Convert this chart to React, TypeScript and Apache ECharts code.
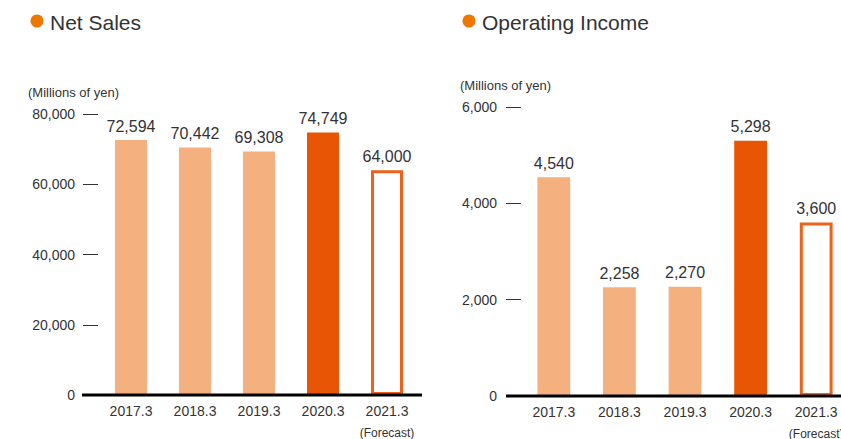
import React, { useEffect, useRef } from "react";
import * as echarts from "echarts";

const categories = ["2017.3", "2018.3", "2019.3", "2020.3", "2021.3"];
const netSales = [72594, 70442, 69308, 74749, 64000];
const operatingIncome = [4540, 2258, 2270, 5298, 3600];
const highlightIndex = 3;
const forecastIndex = 4;

const LIGHT = "#f5b080";
const DARK = "#e85504";
const FORECAST_BORDER = "#ec621a";
const DOT = "#ee7700";
const TEXT = "#333333";
const FONT = "'Liberation Sans', Arial, sans-serif";

function makeData(values: number[]) {
  return values.map((v, i) => {
    if (i === forecastIndex) {
      return {
        value: v,
        itemStyle: { color: "#ffffff", borderColor: FORECAST_BORDER, borderWidth: 3 },
      };
    }
    return { value: v, itemStyle: { color: i === highlightIndex ? DARK : LIGHT } };
  });
}

const fmt = (v: number) => v.toLocaleString("en-US");

export default function App() {
  const ref = useRef<HTMLDivElement>(null);
  useEffect(() => {
    if (!ref.current) return;
    const chart = echarts.init(ref.current, undefined, { renderer: "svg" });
    const xAxisCommon = (gridIndex: number) => ({
      type: "category" as const,
      gridIndex,
      data: categories,
      axisLine: { show: false },
      axisTick: { show: false },
      axisLabel: {
        interval: 0,
        hideOverlap: false,
        margin: 7,
        color: TEXT,
        fontSize: 14,
        fontFamily: FONT,
        lineHeight: 18,
        formatter: (v: string) => (v === categories[forecastIndex] ? v + "\n{f|(Forecast)}" : v),
        rich: { f: { fontSize: 12, color: TEXT, fontFamily: FONT, lineHeight: 26 } },
      },
    });
    const yAxisCommon = (gridIndex: number, max: number, interval: number, offset: number) => ({
      type: "value" as const,
      gridIndex,
      min: 0,
      max,
      interval,
      offset,
      axisLine: { show: false },
      axisTick: { show: true, length: 15, lineStyle: { color: TEXT, width: 1 } },
      splitLine: { show: false },
      axisLabel: {
        margin: 24 - offset,
        color: TEXT,
        fontSize: 14,
        fontFamily: FONT,
        formatter: (v: number) => fmt(v),
      },
    });
    const labelCommon = {
      show: true,
      position: "top" as const,
      distance: 6,
      color: TEXT,
      fontSize: 16,
      fontFamily: FONT,
      formatter: (p: any) => fmt(p.value),
    };
    chart.setOption({
      animation: false,
      grid: [
        { left: 99, width: 320, top: 114, bottom: 44, outerBoundsMode: "none", containLabel: false },
        { left: 521, width: 328, top: 107, bottom: 43, outerBoundsMode: "none", containLabel: false },
      ],
      xAxis: [xAxisCommon(0), xAxisCommon(1)],
      yAxis: [yAxisCommon(0, 80000, 20000, 1), yAxisCommon(1, 6000, 2000, 0)],
      series: [
        {
          type: "bar",
          xAxisIndex: 0,
          yAxisIndex: 0,
          data: makeData(netSales),
          barWidth: "50%",
          label: labelCommon,
        },
        {
          type: "bar",
          xAxisIndex: 1,
          yAxisIndex: 1,
          data: makeData(operatingIncome),
          barWidth: "50%",
          label: labelCommon,
        },
      ],
      graphic: [
        { type: "circle", shape: { cx: 37, cy: 21, r: 6.5 }, style: { fill: DOT } },
        {
          type: "text",
          x: 50,
          y: 22,
          style: { text: "Net Sales", fill: TEXT, fontSize: 21, fontFamily: FONT, verticalAlign: "middle" },
        },
        { type: "circle", shape: { cx: 469, cy: 21, r: 6.5 }, style: { fill: DOT } },
        {
          type: "text",
          x: 482,
          y: 22,
          style: { text: "Operating Income", fill: TEXT, fontSize: 21, fontFamily: FONT, verticalAlign: "middle" },
        },
        {
          type: "text",
          x: 28,
          y: 92,
          style: { text: "(Millions of yen)", fill: TEXT, fontSize: 13, fontFamily: FONT, verticalAlign: "middle" },
        },
        {
          type: "text",
          x: 460,
          y: 85,
          style: { text: "(Millions of yen)", fill: TEXT, fontSize: 13, fontFamily: FONT, verticalAlign: "middle" },
        },
        {
          type: "line",
          z: 10,
          shape: { x1: 82, y1: 395, x2: 422, y2: 395 },
          style: { stroke: "#000", lineWidth: 3 },
        },
        {
          type: "line",
          z: 10,
          shape: { x1: 506, y1: 396, x2: 841, y2: 396 },
          style: { stroke: "#000", lineWidth: 3 },
        },
      ],
    });
    return () => chart.dispose();
  }, []);
  return (
    <div
      ref={ref}
      style={{ position: "fixed", left: 0, top: 0, width: 841, height: 439, background: "#fff" }}
    />
  );
}
